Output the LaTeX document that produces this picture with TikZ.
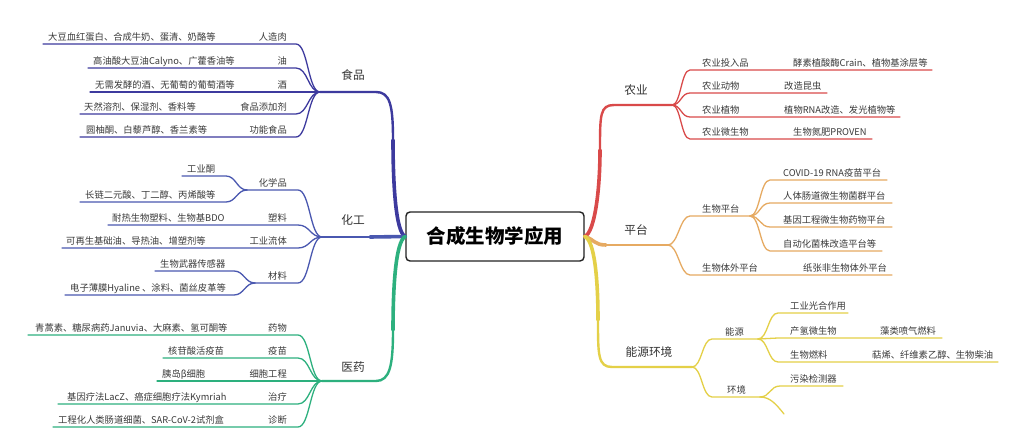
\documentclass[tikz,border=0pt]{standalone}
\usepackage{fontspec}
\setmainfont{Noto Sans CJK SC}
\definecolor{foodc}{HTML}{3D3A9E}
\definecolor{chemc}{HTML}{4A58B0}
\definecolor{medc}{HTML}{2DB07E}
\definecolor{agric}{HTML}{D94A4A}
\definecolor{platc}{HTML}{E6AA62}
\definecolor{enerc}{HTML}{E4D048}
\definecolor{txtc}{HTML}{3A3A3A}
\definecolor{headc}{HTML}{333333}
\definecolor{boxc}{HTML}{222222}
\newcommand{\twigL}[7]{\coordinate (#1) at (#6,#5);
  \draw[twig,#3] (#2) .. controls +(-#7,0) and +(#7,0) .. (#4,#5) -- (#1);}
\newcommand{\twigR}[7]{\coordinate (#1) at (#6,#5);
  \draw[twig,#3] (#2) .. controls +(#7,0) and +(-#7,0) .. (#4,#5) -- (#1);}
\begin{document}
\begin{tikzpicture}[x=1pt,y=-1pt,
  leaf/.style={inner sep=0pt, text=txtc, font=\fontsize{9.3}{11}\selectfont},
  lbl/.style={inner sep=0pt, text=headc, font=\fontsize{11.7}{14}\selectfont},
  twig/.style={line width=1.3pt, line cap=round},
  bough/.style={line width=2.4pt, line cap=round},
  trunk/.style={line width=3.6pt, line cap=round}]
\fill[white] (0,0) rectangle (1026,433);
\path[use as bounding box] (0,0) rectangle (1026,433);

% root
\node[draw=boxc, line width=1.4pt, rounded corners=4pt, fill=white,
  minimum width=178pt, minimum height=49pt, inner sep=0pt,
  font=\fontsize{19.5}{22}\selectfont\bfseries, text=black] (root) at (495,236.5) {合成生物学应用};

% junctions of main branches
\coordinate (jF) at (320,92);
\coordinate (jC) at (322,237);
\coordinate (jM) at (322,381);
\coordinate (jA) at (672,105);
\coordinate (jP) at (668,245);
\coordinate (jE) at (692,367);
\coordinate (kF) at (393,140);
\coordinate (kC) at (370,237);
\coordinate (kM) at (393,330);
\coordinate (kA) at (600,150);
\coordinate (kP) at (606,245);
\coordinate (kE) at (598,320);

% main branches (thick near the root, thinner outward)
\draw[trunk, foodc] (root.west) .. controls +(-10,-4) and +(0,40) .. (kF);
\draw[bough, foodc] (kF) .. controls +(0,-35) and +(14,0) .. (376,92) -- (jF);
\draw[trunk, chemc] (root.west) -- (kC);
\draw[bough, chemc] (kC) -- (jC);
\draw[trunk, medc] (root.west) .. controls +(-10,5) and +(0,-40) .. (kM);
\draw[bough, medc] (kM) .. controls +(0,35) and +(14,0) .. (376,381) -- (jM);
\draw[trunk, agric] (root.east) .. controls +(10,-4) and +(0,40) .. (kA);
\draw[bough, agric] (kA) .. controls +(0,-35) and +(-14,0) .. (614,105) -- (jA);
\draw[trunk, platc] (root.east) .. controls +(10,3) and +(-12,0) .. (kP);
\draw[bough, platc] (kP) -- (jP);
\draw[trunk, enerc] (root.east) .. controls +(10,4) and +(0,-40) .. (kE);
\draw[bough, enerc] (kE) .. controls +(0,35) and +(-14,0) .. (612,367) -- (jE);

\node[lbl] (tF) at (353,75) {食品};
\node[lbl] (tC) at (353,220) {化工};
\node[lbl] (tM) at (353,367) {医药};
\node[lbl] (tA) at (636,90) {农业};
\node[lbl] (tP) at (636,230) {平台};
\node[lbl] (tE) at (649,352) {能源环境};

% ---- food
\twigL{fe1}{jF}{foodc}{296}{44}{43}{12}
\twigL{fe2}{jF}{foodc}{296}{68}{88}{12}
\twigL{fe3}{jF}{foodc}{296}{92}{90}{12}
\twigL{fe4}{jF}{foodc}{296}{114}{80}{12}
\twigL{fe5}{jF}{foodc}{296}{137}{80}{12}
\node[leaf, anchor=base east] (f1) at (287,40.5) {人造肉};
\node[leaf, anchor=base west] (f1d) at (48,40.5) {大豆血红蛋白、合成牛奶、蛋清、奶酪等};
\node[leaf, anchor=base east] (f2) at (287,64.5) {油};
\node[leaf, anchor=base west] (f2d) at (93,64.5) {高油酸大豆油Calyno、广藿香油等};
\node[leaf, anchor=base east] (f3) at (287,88.5) {酒};
\node[leaf, anchor=base west] (f3d) at (95,88.5) {无需发酵的酒、无葡萄的葡萄酒等};
\node[leaf, anchor=base east] (f4) at (287,110.5) {食品添加剂};
\node[leaf, anchor=base west] (f4d) at (84,110.5) {天然溶剂、保湿剂、香料等};
\node[leaf, anchor=base east] (f5) at (287,133.5) {功能食品};
\node[leaf, anchor=base west] (f5d) at (86,133.5) {圆柚酮、白藜芦醇、香兰素等};

% ---- chemical
\twigL{jC1}{jC}{chemc}{298}{190}{247}{12}
\twigL{ce1}{jC1}{chemc}{226}{176}{182}{10}
\twigL{ce2}{jC1}{chemc}{226}{202}{80}{10}
\twigL{ce3}{jC}{chemc}{298}{225}{108}{12}
\twigL{ce4}{jC}{chemc}{298}{248}{62}{12}
\twigL{jC2}{jC}{chemc}{298}{283}{255}{12}
\twigL{ce5}{jC2}{chemc}{234}{271}{155}{10}
\twigL{ce6}{jC2}{chemc}{234}{295}{65}{10}
\node[leaf, anchor=base east] (c1) at (287,186.5) {化学品};
\node[leaf, anchor=base west] (c1a) at (187,172.5) {工业酮};
\node[leaf, anchor=base west] (c1b) at (85,198.5) {长链二元酸、丁二醇、丙烯酸等};
\node[leaf, anchor=base east] (c2) at (287,221.5) {塑料};
\node[leaf, anchor=base west] (c2d) at (112,221.5) {耐热生物塑料、生物基BDO};
\node[leaf, anchor=base east] (c3) at (287,244.5) {工业流体};
\node[leaf, anchor=base west] (c3d) at (66,244.5) {可再生基础油、导热油、增塑剂等};
\node[leaf, anchor=base east] (c4) at (287,279.5) {材料};
\node[leaf, anchor=base west] (c4a) at (160,267.5) {生物武器传感器};
\node[leaf, anchor=base west] (c4b) at (70,291.5) {电子薄膜Hyaline 、涂料、菌丝皮革等};

% ---- medicine
\twigL{me1}{jM}{medc}{298}{335}{28}{12}
\twigL{me2}{jM}{medc}{298}{358}{163}{12}
\twigL{me3}{jM}{medc}{298}{381}{157}{12}
\twigL{me4}{jM}{medc}{298}{404}{58}{12}
\twigL{me5}{jM}{medc}{298}{427}{53}{12}
\node[leaf, anchor=base east] (m1) at (287,331.5) {药物};
\node[leaf, anchor=base west] (m1d) at (35,331.5) {青蒿素、糖尿病药Januvia、大麻素、氢可酮等};
\node[leaf, anchor=base east] (m2) at (287,354.5) {疫苗};
\node[leaf, anchor=base west] (m2d) at (168,354.5) {核苷酸活疫苗};
\node[leaf, anchor=base east] (m3) at (287,377.5) {细胞工程};
\node[leaf, anchor=base west] (m3d) at (162,377.5) {胰岛β细胞};
\node[leaf, anchor=base east] (m4) at (287,400.5) {治疗};
\node[leaf, anchor=base west] (m4d) at (67,400.5) {基因疗法LacZ、癌症细胞疗法Kymriah};
\node[leaf, anchor=base east] (m5) at (287,423.5) {诊断};
\node[leaf, anchor=base west] (m5d) at (58,423.5) {工程化人类肠道细菌、SAR-CoV-2试剂盒};

% ---- agriculture
\twigR{ae1}{jA}{agric}{690}{70}{932}{9}
\twigR{ae2}{jA}{agric}{690}{93}{827}{9}
\twigR{ae3}{jA}{agric}{690}{117}{900}{9}
\twigR{ae4}{jA}{agric}{690}{139}{872}{9}
\node[leaf, anchor=base west] (a1) at (702,66.5) {农业投入品};
\node[leaf, anchor=base west] (a1d) at (793,66.5) {酵素植酸酶Crain、植物基涂层等};
\node[leaf, anchor=base west] (a2) at (702,89.5) {农业动物};
\node[leaf, anchor=base west] (a2d) at (784,89.5) {改造昆虫};
\node[leaf, anchor=base west] (a3) at (702,113.5) {农业植物};
\node[leaf, anchor=base west] (a3d) at (784,113.5) {植物RNA改造、发光植物等};
\node[leaf, anchor=base west] (a4) at (702,135.5) {农业微生物};
\node[leaf, anchor=base west] (a4d) at (793,135.5) {生物氮肥PROVEN};

% ---- platform
\twigR{jP1}{jP}{platc}{690}{216}{750}{10}
\twigR{pe1}{jP1}{platc}{770}{180}{887}{10}
\twigR{pe2}{jP1}{platc}{770}{203}{892}{10}
\twigR{pe3}{jP1}{platc}{770}{227}{892}{10}
\twigR{pe4}{jP1}{platc}{770}{251}{882}{10}
\twigR{pe5}{jP}{platc}{690}{275}{892}{10}
\node[leaf, anchor=base west] (p1) at (702,212.5) {生物平台};
\node[leaf, anchor=base west] (p1a) at (783,176.5) {COVID-19 RNA疫苗平台};
\node[leaf, anchor=base west] (p1b) at (783,199.5) {人体肠道微生物菌群平台};
\node[leaf, anchor=base west] (p1c) at (783,223.5) {基因工程微生物药物平台};
\node[leaf, anchor=base west] (p1d) at (783,247.5) {自动化菌株改造平台等};
\node[leaf, anchor=base west] (p2) at (702,271.5) {生物体外平台};
\node[leaf, anchor=base west] (p2d) at (803,271.5) {纸张非生物体外平台};

% ---- energy & environment
\twigR{jE1}{jE}{enerc}{712}{339}{758}{10}
\twigR{ee1}{jE1}{enerc}{778}{313}{848}{10}
\twigR{ee2}{jE1}{enerc}{778}{338}{942}{10}
\twigR{ee3}{jE1}{enerc}{778}{362}{998}{10}
\twigR{jE2}{jE}{enerc}{712}{397}{760}{10}
\twigR{ee4}{jE2}{enerc}{780}{386}{843}{10}
\coordinate (ee5) at (784,414);
\draw[twig, enerc] (jE2) .. controls +(10,0) and +(-8,-10) .. (ee5);
\node[leaf, anchor=base west] (e1) at (725,335.5) {能源};
\node[leaf, anchor=base west] (e1a) at (790,309.5) {工业光合作用};
\node[leaf, anchor=base west] (e1b) at (790,334.5) {产氢微生物};
\node[leaf, anchor=base west] (e1bd) at (880,334.5) {藻类喷气燃料};
\node[leaf, anchor=base west] (e1c) at (790,358.5) {生物燃料};
\node[leaf, anchor=base west] (e1cd) at (872,358.5) {萜烯、纤维素乙醇、生物柴油};
\node[leaf, anchor=base west] (e2) at (727,393.5) {环境};
\node[leaf, anchor=base west] (e2a) at (790,382.5) {污染检测器};
\end{tikzpicture}
\end{document}
